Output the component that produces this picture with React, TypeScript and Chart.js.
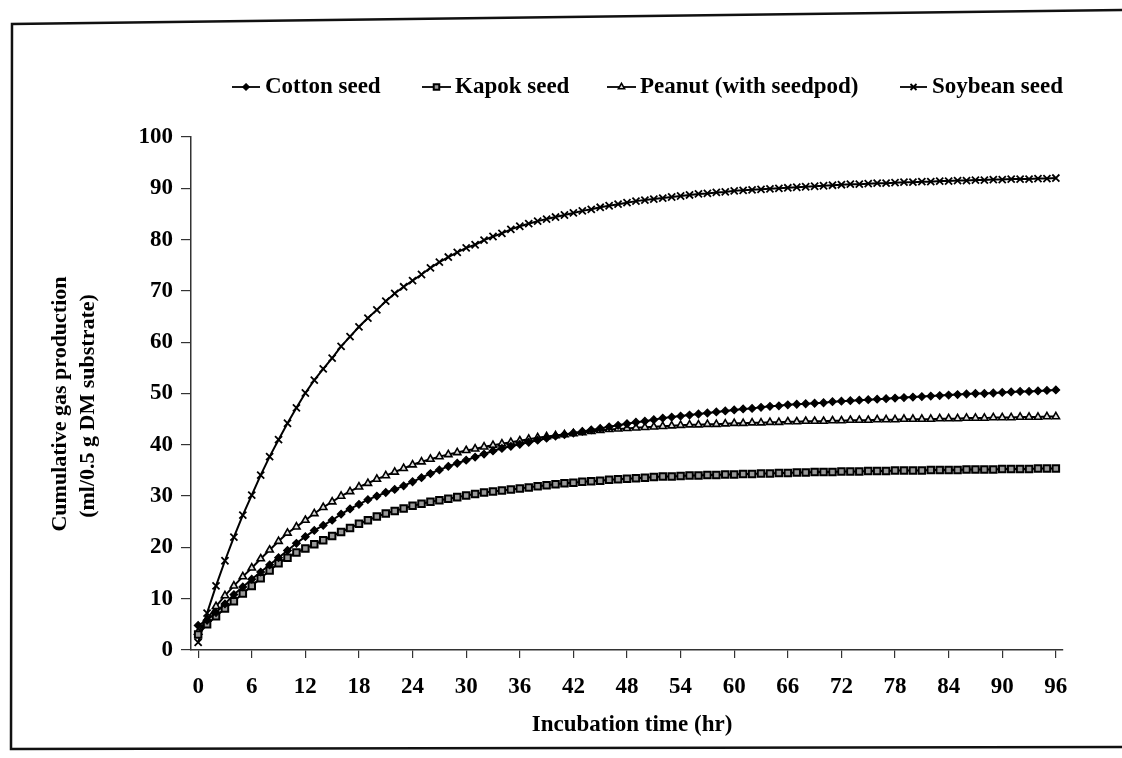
import React, { useEffect, useRef } from 'react';
import { Chart, registerables } from 'chart.js';

Chart.register(...registerables);

// ---------- data ----------
const HOURS: number[] = Array.from({ length: 97 }, (_, i) => i);
const X_TICKS = [0, 6, 12, 18, 24, 30, 36, 42, 48, 54, 60, 66, 72, 78, 84, 90, 96];
const Y_TICKS = [0, 10, 20, 30, 40, 50, 60, 70, 80, 90, 100];

const SERIES_NAMES = ['Cotton seed', 'Kapok seed', 'Peanut (with seedpod)', 'Soybean seed'];
const X_TITLE = 'Incubation time (hr)';
const Y_TITLE = ['Cumulative gas production', '(ml/0.5 g DM substrate)'];

const COTTON = [
  4.8, 5.8, 7.3, 9.0, 10.8, 12.3, 13.8, 15.2, 16.6, 18.0,
  19.4, 20.8, 22.1, 23.3, 24.3, 25.3, 26.5, 27.5, 28.4, 29.3,
  30.0, 30.7, 31.3, 32.0, 32.8, 33.6, 34.4, 35.1, 35.8, 36.4,
  37.0, 37.6, 38.2, 38.8, 39.3, 39.7, 40.1, 40.5, 40.9, 41.3,
  41.7, 42.0, 42.3, 42.6, 42.9, 43.2, 43.5, 43.8, 44.1, 44.4,
  44.6, 44.9, 45.2, 45.4, 45.6, 45.8, 46.0, 46.2, 46.4, 46.6,
  46.8, 47.0, 47.1, 47.3, 47.5, 47.6, 47.8, 47.9, 48.0, 48.1,
  48.2, 48.4, 48.5, 48.6, 48.7, 48.8, 48.9, 49.0, 49.1, 49.2,
  49.3, 49.4, 49.5, 49.6, 49.7, 49.8, 49.9, 50.0, 50.0, 50.1,
  50.2, 50.3, 50.4, 50.4, 50.5, 50.6, 50.7,
];

const KAPOK = [
  3.0, 5.0, 6.6, 8.1, 9.5, 11.0, 12.5, 14.0, 15.5, 16.9,
  18.0, 19.0, 19.8, 20.6, 21.4, 22.2, 23.0, 23.8, 24.6, 25.3,
  26.0, 26.6, 27.1, 27.6, 28.1, 28.5, 28.9, 29.2, 29.5, 29.8,
  30.1, 30.4, 30.7, 30.9, 31.1, 31.3, 31.5, 31.7, 31.9, 32.1,
  32.3, 32.5, 32.6, 32.8, 32.9, 33.0, 33.2, 33.3, 33.4, 33.5,
  33.6, 33.7, 33.8, 33.8, 33.9, 34.0, 34.0, 34.1, 34.1, 34.2,
  34.2, 34.3, 34.3, 34.4, 34.4, 34.5, 34.5, 34.6, 34.6, 34.7,
  34.7, 34.7, 34.8, 34.8, 34.8, 34.9, 34.9, 34.9, 35.0, 35.0,
  35.0, 35.0, 35.1, 35.1, 35.1, 35.1, 35.2, 35.2, 35.2, 35.2,
  35.3, 35.3, 35.3, 35.3, 35.4, 35.4, 35.4,
];

const PEANUT = [
  3.5, 6.0, 8.5, 10.6, 12.5, 14.3, 16.0, 17.8, 19.5, 21.2,
  22.8, 24.0, 25.3, 26.6, 27.8, 28.9, 30.0, 30.9, 31.8, 32.5,
  33.3, 34.0, 34.7, 35.4, 36.1, 36.7, 37.2, 37.7, 38.1, 38.5,
  38.9, 39.2, 39.6, 39.9, 40.2, 40.5, 40.8, 41.1, 41.4, 41.6,
  41.8, 42.0, 42.2, 42.4, 42.6, 42.8, 43.0, 43.1, 43.2, 43.3,
  43.4, 43.5, 43.6, 43.7, 43.8, 43.9, 43.9, 44.0, 44.0, 44.1,
  44.2, 44.2, 44.3, 44.3, 44.4, 44.4, 44.5, 44.5, 44.6, 44.6,
  44.6, 44.7, 44.7, 44.8, 44.8, 44.8, 44.9, 44.9, 44.9, 45.0,
  45.0, 45.0, 45.0, 45.1, 45.1, 45.1, 45.2, 45.2, 45.2, 45.3,
  45.3, 45.3, 45.4, 45.4, 45.4, 45.5, 45.5,
];

const SOYBEAN = [
  1.5, 7.2, 12.5, 17.4, 22.0, 26.3, 30.2, 34.1, 37.7, 41.0,
  44.2, 47.2, 50.1, 52.6, 54.8, 56.9, 59.2, 61.1, 63.0, 64.7,
  66.3, 68.0, 69.5, 70.8, 72.0, 73.2, 74.5, 75.6, 76.6, 77.5,
  78.4, 79.0, 79.9, 80.6, 81.2, 82.0, 82.6, 83.1, 83.6, 84.0,
  84.4, 84.8, 85.2, 85.6, 85.9, 86.3, 86.6, 86.9, 87.2, 87.5,
  87.7, 87.9, 88.1, 88.3, 88.5, 88.7, 88.9, 89.0, 89.2, 89.3,
  89.5, 89.6, 89.7, 89.8, 89.9, 90.0, 90.1, 90.2, 90.3, 90.4,
  90.5, 90.6, 90.7, 90.8, 90.8, 90.9, 91.0, 91.0, 91.1, 91.2,
  91.2, 91.3, 91.3, 91.4, 91.4, 91.5, 91.5, 91.6, 91.6, 91.7,
  91.7, 91.8, 91.8, 91.8, 91.9, 91.9, 92.0,
];

const SERIES_VALUES = [COTTON, KAPOK, PEANUT, SOYBEAN];

// ---------- styles ----------
const FONT_FAMILY = '"Liberation Serif", "Times New Roman", serif';
const MARKERS = [
  { pointStyle: 'rectRot', radius: 3.8, fill: '#000', border: 1.2 },
  { pointStyle: 'rect', radius: 4.6, fill: '#999', border: 2 },
  { pointStyle: 'triangle', radius: 4.2, fill: '#ddd', border: 1.6 },
  { pointStyle: 'crossRot', radius: 5, fill: '#000', border: 1.8 },
];
const LEGEND_POS = [
  { x1: 232, x2: 260, tx: 265 },
  { x1: 422, x2: 451, tx: 455 },
  { x1: 607, x2: 636, tx: 640 },
  { x1: 900, x2: 927, tx: 932 },
];
const LEGEND_Y = 87;

const CHART_RIGHT = 1063;
const CHART_TOP = 137;
const CHART_BOTTOM = 650;
const W = 1122;
const H = 758;

function drawMarker(ctx: CanvasRenderingContext2D, style: string, r: number, x: number, y: number) {
  ctx.beginPath();
  if (style === 'rectRot') {
    ctx.moveTo(x, y - r);
    ctx.lineTo(x + r, y);
    ctx.lineTo(x, y + r);
    ctx.lineTo(x - r, y);
    ctx.closePath();
    ctx.fill();
    ctx.stroke();
  } else if (style === 'rect') {
    const s = r * Math.SQRT1_2;
    ctx.rect(x - s, y - s, 2 * s, 2 * s);
    ctx.fill();
    ctx.stroke();
  } else if (style === 'triangle') {
    ctx.moveTo(x, y - r);
    ctx.lineTo(x + r * 0.866, y + r * 0.5);
    ctx.lineTo(x - r * 0.866, y + r * 0.5);
    ctx.closePath();
    ctx.fill();
    ctx.stroke();
  } else {
    const s = r * Math.SQRT1_2;
    ctx.moveTo(x - s, y - s);
    ctx.lineTo(x + s, y + s);
    ctx.moveTo(x - s, y + s);
    ctx.lineTo(x + s, y - s);
    ctx.stroke();
  }
}

const decorPlugin = {
  id: 'decor',
  beforeDraw(chart: any) {
    const ctx = chart.ctx;
    ctx.save();
    ctx.fillStyle = '#fff';
    ctx.fillRect(0, 0, W, H);
    ctx.strokeStyle = '#111';
    ctx.lineWidth = 2.5;
    ctx.beginPath();
    ctx.moveTo(1122, 10);
    ctx.lineTo(12, 24);
    ctx.lineTo(11, 749);
    ctx.lineTo(1122, 747);
    ctx.stroke();
    ctx.restore();
  },
  afterDraw(chart: any) {
    const ctx = chart.ctx;
    ctx.save();
    ctx.font = `bold 23px ${FONT_FAMILY}`;
    ctx.textBaseline = 'middle';
    chart.data.datasets.forEach((ds: any, i: number) => {
      const p = LEGEND_POS[i];
      const m = MARKERS[i];
      ctx.strokeStyle = '#000';
      ctx.lineWidth = 1.8;
      ctx.beginPath();
      ctx.moveTo(p.x1, LEGEND_Y);
      ctx.lineTo(p.x2, LEGEND_Y);
      ctx.stroke();
      ctx.fillStyle = m.fill;
      ctx.lineWidth = m.border;
      drawMarker(ctx, m.pointStyle, m.radius * 0.85, (p.x1 + p.x2) / 2, LEGEND_Y);
      ctx.fillStyle = '#000';
      ctx.textAlign = 'left';
      ctx.fillText(ds.label, p.tx, LEGEND_Y);
    });
    ctx.textAlign = 'center';
    ctx.fillText(X_TITLE, 632, 725);
    ctx.font = `bold 22px ${FONT_FAMILY}`;
    const ys = [[60, 404], [88, 406]];
    Y_TITLE.forEach((t, i) => {
      ctx.save();
      ctx.translate(ys[i][0], ys[i][1]);
      ctx.rotate(-Math.PI / 2);
      ctx.fillText(t, 0, 0);
      ctx.restore();
    });
    ctx.restore();
  },
};

export default function App() {
  const ref = useRef<HTMLCanvasElement | null>(null);

  useEffect(() => {
    if (!ref.current) return;
    const datasets = SERIES_NAMES.map((name, i) => ({
      label: name,
      data: HOURS.map((h, j) => ({ x: h, y: SERIES_VALUES[i][j] })),
      borderColor: '#000',
      borderWidth: 2,
      pointStyle: MARKERS[i].pointStyle,
      pointRadius: MARKERS[i].radius,
      pointBackgroundColor: MARKERS[i].fill,
      pointBorderColor: '#000',
      pointBorderWidth: MARKERS[i].border,
      tension: 0,
      fill: false,
    }));

    const tickFont = { family: FONT_FAMILY, size: 23, weight: 'bold' as const };
    const yScaleWidth = 191 - 20;
    const xScaleHeight = 60;

    const chart = new Chart(ref.current, {
      type: 'line',
      data: { datasets },
      plugins: [decorPlugin],
      options: {
        animation: false,
        responsive: false,
        devicePixelRatio: 1,
        layout: {
          padding: {
            left: 20,
            right: W - CHART_RIGHT,
            top: CHART_TOP,
            bottom: H - CHART_BOTTOM - xScaleHeight,
          },
        },
        plugins: {
          legend: { display: false },
          tooltip: { enabled: false },
          title: { display: false },
        },
        scales: {
          x: {
            type: 'linear',
            min: -0.8,
            max: 96.8,
            afterBuildTicks: (scale: any) => {
              scale.ticks = X_TICKS.map((v) => ({ value: v }));
            },
            afterFit: (scale: any) => {
              scale.height = xScaleHeight;
            },
            grid: {
              display: true,
              drawOnChartArea: false,
              drawTicks: true,
              tickLength: 8,
              color: '#333',
              lineWidth: 1.2,
            },
            border: { display: true, color: '#333', width: 1.5 },
            ticks: {
              color: '#000',
              font: tickFont,
              padding: 15,
              maxRotation: 0,
              autoSkip: false,
            },
          },
          y: {
            type: 'linear',
            min: 0,
            max: 100,
            afterBuildTicks: (scale: any) => {
              scale.ticks = Y_TICKS.map((v) => ({ value: v }));
            },
            afterFit: (scale: any) => {
              scale.width = yScaleWidth;
            },
            grid: {
              display: true,
              drawOnChartArea: false,
              drawTicks: true,
              tickLength: 10,
              color: '#333',
              lineWidth: 1.2,
            },
            border: { display: true, color: '#333', width: 1.5 },
            ticks: {
              color: '#000',
              font: tickFont,
              padding: 8,
              autoSkip: false,
            },
          },
        },
      },
    });
    return () => chart.destroy();
  }, []);

  return (
    <div style={{ position: 'absolute', left: 0, top: 0, width: W, height: H, background: '#fff' }}>
      <canvas ref={ref} width={W} height={H} style={{ width: W, height: H, display: 'block' }} />
    </div>
  );
}
